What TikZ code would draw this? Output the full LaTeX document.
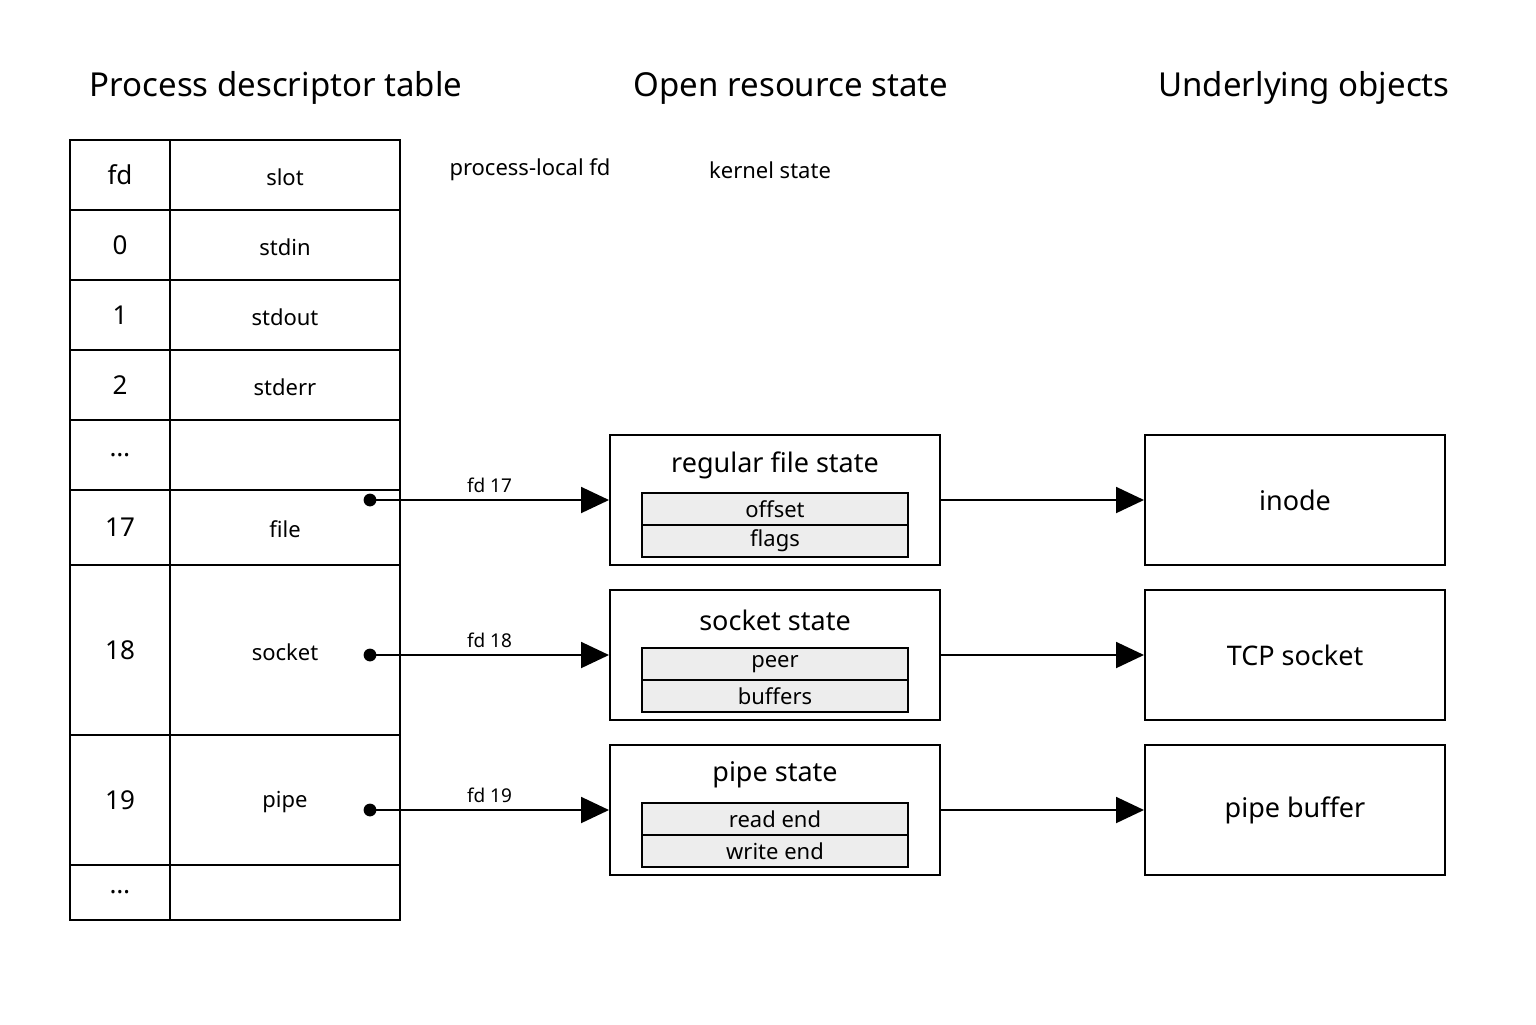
\documentclass[tikz,border=0pt]{standalone}
\usepackage{fontspec}
\setmainfont{Noto Sans}
\usetikzlibrary{arrows.meta,positioning}
\tikzset{
  px/.style={x=0.5pt,y=-0.5pt},
  title/.style={font=\fontsize{16.5}{18}\selectfont\bfseries},
  state/.style={draw,line width=1pt,minimum width=165pt,minimum height=65pt,inner sep=0pt},
  field/.style={draw,line width=0.8pt,fill=black!7,minimum width=133pt,minimum height=16pt,inner sep=0pt,font=\fontsize{11}{12}\selectfont},
  link/.style={line width=1pt,-{Triangle[length=14pt,width=13pt]}},
}
\begin{document}
\begin{tikzpicture}[px]
  \useasboundingbox (0,0) rectangle (1536,1024);

  % column titles
  \node[title] (t1) at (276,88) {Process descriptor table};
  \node[title] (t2) at (791,88) {Open resource state};
  \node[title] (t3) at (1304,88) {Underlying objects};
  \node[font=\fontsize{11}{12}\selectfont] (n1) at (530,170) {process-local fd};
  \node[font=\fontsize{11}{12}\selectfont] (n2) at (770,170) {kernel state};

  % descriptor table
  \foreach \a/\b/\fd/\slot [count=\i] in {140/210/fd/slot,210/280/0/stdin,280/350/1/stdout,
      350/420/2/stderr,420/490/\ldots/{},490/565/17/file,565/735/18/socket,735/865/19/pipe,865/920/\ldots/{}} {
    \draw[line width=1pt] (70,\a) rectangle (170,\b) (170,\a) rectangle (400,\b);
    \node[font=\fontsize{13}{14}\selectfont] (fd\i) at (120,{(\a+\b)/2}) {\fd};
    \node[font=\fontsize{11}{12}\selectfont] (slot\i) at (285,{(\a+\b)/2+2}) {\slot};
  }

  % open resource state
  \foreach \y/\name/\lbl/\fa/\fb/\obj [count=\i from 17] in {
      500/file/regular file state/offset/flags/inode / file,
      655/sock/socket state/peer/buffers/TCP socket,
      810/pipe/pipe state/read end/write end/pipe buffer} {
    \node[state] (\name) at (775,\y) {};
    \node[font=\fontsize{13.5}{15}\selectfont] at (775,\y-35) {\lbl};
    \node[field] (\name a) at (775,\y+9) {\fa};
    \node[field] (\name b) at (775,\y+41) {\fb};
    \node[state,minimum width=150pt] (\name obj) at (1295,\y) {\fontsize{13.5}{15}\selectfont\obj};
    \coordinate (\name dot) at (370,\y);
    \fill (\name dot) circle (3.2pt);
    \draw[link] (\name dot) -- node[above,font=\fontsize{9.5}{11}\selectfont] {fd \i} (\name.west);
    \draw[link] (\name.east) -- (\name obj.west);
  }
\end{tikzpicture}
\end{document}
